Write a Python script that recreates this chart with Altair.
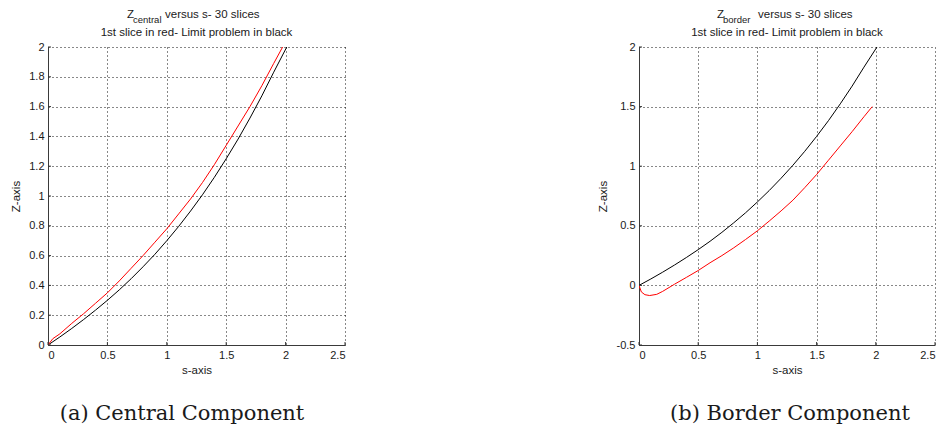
import altair as alt
import pandas as pd

# Limit problem (black), Z versus s
limit_s = [0.0, 0.1, 0.2, 0.3, 0.4, 0.5, 0.6, 0.7, 0.8, 0.9, 1.0,
           1.1, 1.2, 1.3, 1.4, 1.5, 1.6, 1.7, 1.8, 1.9, 2.01]
limit_z = [0.0, 0.054, 0.111, 0.171, 0.234, 0.300, 0.370, 0.445, 0.525, 0.609, 0.700,
           0.796, 0.899, 1.008, 1.125, 1.250, 1.382, 1.523, 1.672, 1.831, 2.0]

# 1st slice (red), central component
central_s = [0.0, 0.04, 0.1, 0.2, 0.3, 0.4, 0.5, 0.6, 0.7, 0.8, 0.9, 1.0,
             1.1, 1.2, 1.3, 1.4, 1.5, 1.6, 1.7, 1.8, 1.9, 1.975]
central_z = [0.0, 0.042, 0.075, 0.145, 0.21, 0.28, 0.35, 0.43, 0.515, 0.60, 0.69, 0.78,
             0.88, 0.98, 1.09, 1.21, 1.34, 1.47, 1.60, 1.74, 1.89, 2.0]

# 1st slice (red), border component
border_s = [0.0, 0.02, 0.05, 0.09, 0.15, 0.2, 0.3, 0.4, 0.5, 0.6, 0.7, 0.8, 0.9, 1.0,
            1.1, 1.2, 1.3, 1.4, 1.5, 1.6, 1.7, 1.8, 1.9, 1.97]
border_z = [0.0, -0.055, -0.078, -0.085, -0.075, -0.05, 0.01, 0.067, 0.125, 0.19, 0.25,
            0.315, 0.385, 0.458, 0.54, 0.625, 0.715, 0.82, 0.93, 1.05, 1.17, 1.29, 1.415, 1.5]

x_ticks = [0, 0.5, 1, 1.5, 2, 2.5]
central_y_ticks = [0, 0.2, 0.4, 0.6, 0.8, 1, 1.2, 1.4, 1.6, 1.8, 2]
border_y_ticks = [-0.5, 0, 0.5, 1, 1.5, 2]

SANS = "Liberation Sans"
SERIF = "DejaVu Serif"
INK = "#1a1a1a"
H = 298


def curve_table(slice_s, slice_z):
    rows = [{"s": s, "z": z, "series": "Limit problem"} for s, z in zip(limit_s, limit_z)]
    rows += [{"s": s, "z": z, "series": "1st slice"} for s, z in zip(slice_s, slice_z)]
    return pd.DataFrame(rows)


def label_text(x, y, text, size=11.5, align="left", baseline="alphabetic", font=SANS):
    return alt.Chart(pd.DataFrame({"t": [text]})).mark_text(
        font=font, fontSize=size, align=align, baseline=baseline, color=INK
    ).encode(x=alt.value(x), y=alt.value(y), text="t:N")


def panel(W, slice_s, slice_z, y_domain, y_ticks, sub, sub_x, rest_x,
          caption, caption_x, ytitle_x, bound_box=False):
    xscale = alt.Scale(domain=[0, 2.5], nice=False, zero=False)
    yscale = alt.Scale(domain=y_domain, nice=False, zero=False)
    xaxis = alt.Axis(values=x_ticks, labelExpr="'' + datum.value", title="s-axis",
                     titleX=W / 2, titleY=25, titleBaseline="middle", titleAlign="center")
    yaxis = alt.Axis(values=y_ticks, labelExpr="'' + datum.value", title="Z-axis",
                     titleX=ytitle_x, titleY=H / 2, titleAngle=270,
                     titleBaseline="middle", titleAlign="center")

    lines = alt.Chart(curve_table(slice_s, slice_z)).mark_line(
        strokeWidth=1, clip=True
    ).encode(
        x=alt.X("s:Q", scale=xscale, axis=xaxis),
        y=alt.Y("z:Q", scale=yscale, axis=yaxis),
        color=alt.Color("series:N", legend=None,
                        scale=alt.Scale(domain=["Limit problem", "1st slice"],
                                        range=["#000000", "#ff0000"])),
    )

    # inward tick marks on the left and bottom axes
    xt = alt.Chart(pd.DataFrame({"s": x_ticks})).mark_rule(color="#333", strokeWidth=1).encode(
        x=alt.X("s:Q", scale=xscale, axis=xaxis), y=alt.value(H), y2=alt.value(H - 3))
    yt = alt.Chart(pd.DataFrame({"z": y_ticks})).mark_rule(color="#333", strokeWidth=1).encode(
        y=alt.Y("z:Q", scale=yscale, axis=yaxis), x=alt.value(0), x2=alt.value(3))

    layers = []
    if bound_box:
        layers.append(alt.Chart(pd.DataFrame({"a": [0]})).mark_rect(color="white").encode(
            x=alt.value(-48), x2=alt.value(-47), y=alt.value(-47), y2=alt.value(-46)))
    layers += [
        lines, xt, yt,
        label_text(sub_x - 6, -29, "Z"),
        label_text(sub_x, -24, sub, size=9.5),
        label_text(rest_x, -29, "versus s- 30 slices"),
        label_text(W / 2, -11, "1st slice in red- Limit problem in black", align="center"),
        label_text(caption_x, 373, caption, size=21, align="center", font=SERIF),
    ]
    return alt.layer(*layers).properties(width=W, height=H)


left = panel(297, central_s, central_z, [0, 2], central_y_ticks, "central", 85, 117,
             "(a) Central Component", 134, -32, bound_box=True)
right = panel(296, border_s, border_z, [-0.5, 2], border_y_ticks, "border", 84, 119,
              "(b) Border Component", 151, -36)

chart = alt.hconcat(left, right, spacing=294, bounds="flush").properties(
    padding={"left": 0, "top": 0, "right": 0, "bottom": 0}
).configure_view(stroke=None).configure_axis(
    domainColor="#3a3a3a", domainWidth=1,
    grid=True, gridColor="#111111", gridDash=[1, 3], gridWidth=1, gridOpacity=1,
    ticks=False, tickSize=0, labelPadding=4,
    labelFont=SANS, labelFontSize=11, labelColor=INK,
    titleFont=SANS, titleFontSize=11.5, titleFontWeight="normal", titleColor=INK,
)

chart.save("out.html", embed_options={"renderer": "svg", "actions": False})
